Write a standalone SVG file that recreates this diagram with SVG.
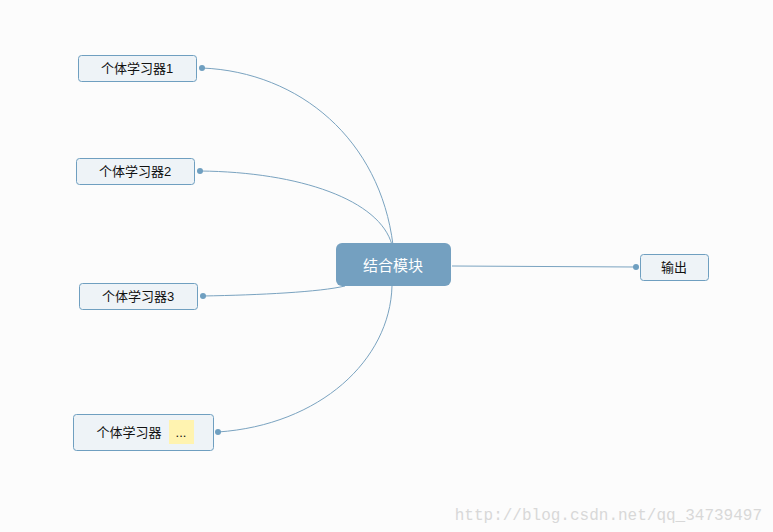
<svg xmlns="http://www.w3.org/2000/svg" width="773" height="532" viewBox="0 0 773 532">
<style>
.n{fill:#eef3f7;stroke:#6f9fc0;stroke-width:1}
.t{font-family:"Liberation Sans","Noto Sans CJK SC",sans-serif;font-size:13px;fill:#111;text-anchor:middle}
.c{fill:none;stroke:#7aa3c0;stroke-width:1}
.d{fill:#6f9fc0}
</style>
<rect width="773" height="532" fill="#fcfcfc"/>
<g id="connectors">
<path class="c" d="M202,68 C300,72 380,140 393,245"/>
<path class="c" d="M200,171 C300,172 380,200 392,245"/>
<path class="c" d="M203,296 C260,295 320,292 345,286"/>
<path class="c" d="M218,432 C320,425 390,360 392,286"/>
<path class="c" d="M452,266 L636,267"/>
<circle class="d" cx="202" cy="68" r="3"/>
<circle class="d" cx="200" cy="171" r="3"/>
<circle class="d" cx="203" cy="296" r="3"/>
<circle class="d" cx="218" cy="432" r="3"/>
<circle class="d" cx="636" cy="267" r="3"/>
</g>
<g id="n1"><rect class="n" x="78.5" y="55.5" width="118" height="26" rx="3"/><text class="t" x="137" y="73">个体学习器1</text></g>
<g id="n2"><rect class="n" x="76.5" y="158.5" width="118" height="26" rx="3"/><text class="t" x="135" y="176">个体学习器2</text></g>
<g id="n3"><rect class="n" x="79.5" y="283.5" width="118" height="26" rx="3"/><text class="t" x="138" y="301">个体学习器3</text></g>
<g id="n4"><rect class="n" x="73.5" y="414.5" width="140" height="36" rx="3"/><text class="t" x="129" y="437">个体学习器</text><rect x="169" y="420" width="25" height="24" fill="#fff3b0"/><text class="t" x="181" y="437" font-size="11">...</text></g>
<g id="center"><rect x="336" y="243" width="115" height="43" rx="6" fill="#74a0c0"/><text class="t" x="393" y="271" style="fill:#fff;font-size:15px">结合模块</text></g>
<g id="out"><rect class="n" x="640.5" y="254.5" width="68" height="26" rx="3"/><text class="t" x="674" y="272">输出</text></g>
<text x="762" y="520" text-anchor="end" font-family="Liberation Mono,monospace" font-size="16" fill="#d8d8d8">http://blog.csdn.net/qq_34739497</text>
</svg>
